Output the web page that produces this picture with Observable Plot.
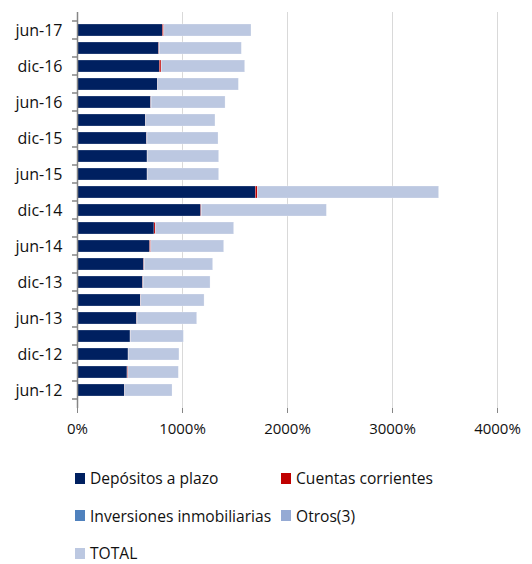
<!DOCTYPE html>
<html>
<head>
<meta charset="utf-8">
<script src="https://cdn.jsdelivr.net/npm/d3@7"></script>
<script src="https://cdn.jsdelivr.net/npm/@observablehq/plot@0.6"></script>
<style>
  html, body { margin: 0; padding: 0; background: #fff; }
  #wrap { position: relative; width: 532px; height: 564px; font-family: "Open Sans", sans-serif; }
  #legend { position: absolute; left: 75px; top: 471px; display: grid; grid-template-columns: 206px 200px; grid-auto-rows: 37.5px; font-size: 15.6px; line-height: 14px; color: #111; }
  .item { display: flex; align-items: center; height: 14px; white-space: nowrap; }
  .sw { width: 10px; height: 11px; margin-right: 5px; flex: none; }
</style>
</head>
<body>
<div id="wrap"><div id="chart"></div><div id="legend"></div></div>
<script>
const dates = ["jun-12","sep-12","dic-12","mar-13","jun-13","sep-13","dic-13","mar-14","jun-14","sep-14","dic-14","mar-15","jun-15","sep-15","dic-15","mar-16","jun-16","sep-16","dic-16","mar-17","jun-17"];
const labeledDates = ["jun-12","dic-12","jun-13","dic-13","jun-14","dic-14","jun-15","dic-15","jun-16","dic-16","jun-17"];
const seriesNames = ["Depósitos a plazo","Cuentas corrientes","Inversiones inmobiliarias","Otros(3)","TOTAL"];
const seriesColors = ["#002060","#C00000","#4F81BD","#95AAD4","#BCC8E1"];
const depositos   = [451, 476, 486, 505, 568, 603, 625, 635, 692, 733, 1178, 1698, 667, 667, 663, 651, 702, 765, 784, 778, 813];
const cuentas     = [2, 8, 2, 2, 2, 3, 3, 3, 10, 13, 5, 19, 2, 2, 2, 2, 2, 2, 16, 3, 13];
const inversiones = [0, 0, 0, 0, 0, 0, 0, 0, 0, 0, 0, 0, 0, 0, 0, 0, 0, 0, 0, 0, 0];
const otros       = [2, 2, 2, 2, 2, 2, 2, 2, 2, 2, 2, 2, 2, 2, 2, 2, 2, 2, 2, 2, 2];
const total       = [450, 479, 481, 504, 568, 602, 637, 652, 693, 744, 1190, 1725, 678, 678, 676, 659, 704, 768, 795, 782, 829];
const xTicks = [0, 1000, 2000, 3000, 4000];

const seriesValues = [depositos, cuentas, inversiones, otros, total];
const data = [];
seriesNames.forEach((s, si) => dates.forEach((d, i) => data.push({date: d, series: s, value: seriesValues[si][i]})));

const plot = Plot.plot({
  width: 532,
  height: 440,
  marginTop: 12,
  marginBottom: 32,
  marginLeft: 77,
  marginRight: 35,
  style: {fontFamily: "Open Sans, sans-serif", fontSize: "15px", color: "#111", background: "#fff"},
  x: {domain: [0, 4000], ticks: xTicks, tickFormat: d => d + "%", label: null},
  y: {domain: dates.slice().reverse(), padding: 0.36, label: null},
  color: {domain: seriesNames, range: seriesColors},
  marks: [
    Plot.gridX(xTicks.slice(1), {stroke: "#D9D9D9", strokeOpacity: 1, strokeWidth: 1}),
    Plot.barX(data, Plot.stackX({y: "date", x: "value", fill: "series", order: seriesNames, stroke: "#fff", strokeWidth: 0.4, strokeOpacity: 0.6})),
    Plot.ruleX([0], {stroke: "#868686", strokeWidth: 1.5}),
    Plot.ruleY([0], {frameAnchor: "bottom", stroke: "#868686", strokeWidth: 1.5}),
    Plot.axisX({ticks: xTicks, tickFormat: d => d + "%", tickSize: 5, tickPadding: 10, stroke: "#868686", strokeOpacity: 1, fontSize: 15, label: null}),
    Plot.axisY({tickSize: 0, tickPadding: 15, tickFormat: d => labeledDates.includes(d) ? d : "", fontSize: 16, label: null})
  ]
});
document.getElementById("chart").appendChild(plot);

// boundary ticks on the y axis, from the library's band scale
const ys = plot.scale("y");
const svg = d3.select(plot);
const gap = (ys.step - ys.bandwidth) / 2;
const bounds = dates.map(d => ys.apply(d) - gap);
bounds.push(ys.apply(dates[0]) + ys.bandwidth + gap);
const x0 = plot.scale("x").apply(0);
svg.append("g").selectAll("line").data(bounds).join("line")
  .attr("x1", x0 - 5).attr("x2", x0).attr("y1", d => d).attr("y2", d => d)
  .attr("stroke", "#868686").attr("stroke-width", 1.5);

// legend
const lg = d3.select("#legend");
seriesNames.forEach((s, i) => {
  const it = lg.append("div").attr("class", "item");
  it.append("div").attr("class", "sw").style("background", seriesColors[i]);
  it.append("span").text(s);
});
</script>
</body>
</html>
